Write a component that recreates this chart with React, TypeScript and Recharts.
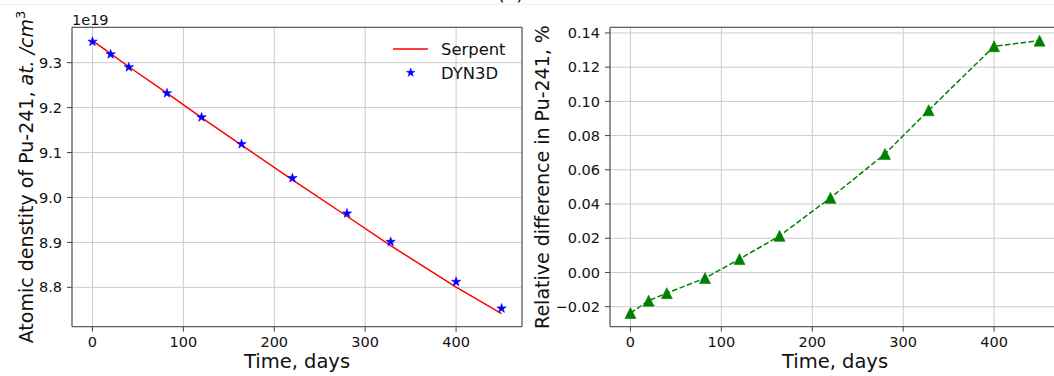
import React from 'react';
import {
  ComposedChart,
  Line,
  XAxis,
  YAxis,
  CartesianGrid,
  ReferenceArea,
  Legend,
} from 'recharts';

// burnup times and results (density in units of 1e19)
const times = [0, 20, 40, 82, 120, 164, 220, 280, 328, 400, 450];
const serpentDensity = [9.3489, 9.3202, 9.2909, 9.2323, 9.1777, 9.1167, 9.0392, 8.9582, 8.8929, 8.8007, 8.7413];
const dyn3dDensity = [9.3467, 9.3187, 9.2898, 9.232, 9.1784, 9.1187, 9.0431, 8.9644, 8.9013, 8.8124, 8.7531];
const relDiffPct = [-0.0237, -0.0165, -0.0121, -0.0033, 0.0078, 0.0214, 0.0436, 0.0693, 0.0948, 0.1322, 0.1355];

const timeTicks = [0, 100, 200, 300, 400];
const densityTicks = [8.8, 8.9, 9.0, 9.1, 9.2, 9.3];
const diffTicks = [-0.02, 0, 0.02, 0.04, 0.06, 0.08, 0.1, 0.12, 0.14];
const seriesNames = ['Serpent', 'DYN3D'];

const densityRows = times.map((t, i) => ({ t, serpent: serpentDensity[i], dyn3d: dyn3dDensity[i] }));
const diffRows = times.map((t, i) => ({ t, diff: relDiffPct[i] }));

const X_DOMAIN: [number, number] = [-22.5, 472.5];
const DENS_DOMAIN: [number, number] = [8.7124, 9.3787];
const DIFF_DOMAIN: [number, number] = [-0.0317, 0.1433];

const FONT = 'DejaVu Sans';
const TEXT = '#111';
const GRID = '#cbcbcb';
const FRAME = '#444';
const tickStyle = { fontSize: 14.5, fill: TEXT, fontFamily: FONT };

const starPoints = (cx: number, cy: number, r: number) => {
  const pts: string[] = [];
  for (let k = 0; k < 10; k++) {
    const rad = k % 2 === 0 ? r : r * 0.382;
    const a = -Math.PI / 2 + (k * Math.PI) / 5;
    pts.push(`${cx + rad * Math.cos(a)},${cy + rad * Math.sin(a)}`);
  }
  return pts.join(' ');
};

const StarDot = (props: any) => {
  const { cx, cy, index } = props;
  if (cx == null || cy == null) return null;
  return <polygon key={`star-${index}`} points={starPoints(cx, cy, 4.9)} fill="#0000ff" stroke="#0000ff" strokeWidth={0.6} />;
};

const TriangleDot = (props: any) => {
  const { cx, cy, index } = props;
  if (cx == null || cy == null) return null;
  const h = 5.5;
  return (
    <polygon
      key={`tri-${index}`}
      points={`${cx},${cy - h} ${cx - h},${cy + h} ${cx + h},${cy + h}`}
      fill="#008000"
      stroke="#008000"
      strokeWidth={0.6}
    />
  );
};

const xLabel = (props: any) => {
  const vb = props.viewBox;
  return (
    <text x={vb.x + vb.width / 2} y={vb.y + 41.5} textAnchor="middle" fontSize={19.5} fontFamily={FONT} fill={TEXT}>
      Time, days
    </text>
  );
};

const densityLabel = (props: any) => {
  const vb = props.viewBox;
  const x = vb.x + 33;
  const y = vb.y + vb.height / 2;
  return (
    <text x={x} y={y} transform={`rotate(-90, ${x}, ${y})`} textAnchor="middle" fontSize={19} fontFamily={FONT} fill={TEXT}>
      Atomic denstity of Pu-241, <tspan fontStyle="italic">at. /cm</tspan>
      <tspan fontSize={13} dy={-8}>3</tspan>
    </text>
  );
};

const diffLabel = (props: any) => {
  const vb = props.viewBox;
  const x = vb.x + 19;
  const y = vb.y + vb.height / 2;
  return (
    <text x={x} y={y} transform={`rotate(-90, ${x}, ${y})`} textAnchor="middle" fontSize={19} fontFamily={FONT} fill={TEXT}>
      Relative difference in Pu-241, %
    </text>
  );
};

const renderLegend = () => (
  <svg width={130} height={50}>
    <line x1={8} y1={13} x2={43} y2={13} stroke="#ff0000" strokeWidth={1.5} />
    <text x={56} y={19} fontSize={16.4} fontFamily={FONT} fill={TEXT}>
      {seriesNames[0]}
    </text>
    <polygon points={starPoints(25.7, 36.7, 4.4)} fill="#0000ff" stroke="#0000ff" strokeWidth={0.6} />
    <text x={56} y={43} fontSize={16.4} fontFamily={FONT} fill={TEXT}>
      {seriesNames[1]}
    </text>
  </svg>
);

const fmtDiff = (v: number) => (v < -1e-9 ? '\u2212' + Math.abs(v).toFixed(2) : Math.abs(v).toFixed(2));

export default function App() {
  return (
    <div
      style={{
        position: 'absolute',
        left: 0,
        top: 0,
        width: 1054,
        height: 376,
        overflow: 'hidden',
        background: '#fff',
        fontFamily: FONT,
      }}
    >
      <div style={{ position: 'absolute', left: 0, top: 4, width: 1054, height: 1, background: '#eeeeee' }} />
      <svg style={{ position: 'absolute', left: 0, top: 0 }} width={1054} height={30}>
        <text x={510.5} y={-0.5} textAnchor="middle" fontSize={19} fontFamily={FONT} fill={TEXT}>
          (a)
        </text>
        <text x={72} y={25} fontSize={14.5} fontFamily={FONT} fill={TEXT}>
          1e19
        </text>
      </svg>

      <div style={{ position: 'absolute', left: 0, top: 0 }}>
        <ComposedChart width={530} height={376} data={densityRows} margin={{ top: 27.3, right: 8, bottom: 9.3, left: 0 }}>
          <CartesianGrid stroke={GRID} strokeWidth={1} />
          <XAxis
            type="number"
            dataKey="t"
            domain={X_DOMAIN}
            ticks={timeTicks}
            allowDataOverflow
            axisLine={false}
            tickLine={{ stroke: FRAME }}
            tickSize={5}
            tickMargin={5}
            tick={tickStyle}
            height={40}
            label={xLabel}
          />
          <YAxis
            type="number"
            domain={DENS_DOMAIN}
            ticks={densityTicks}
            allowDataOverflow
            axisLine={false}
            tickLine={{ stroke: FRAME }}
            tickSize={5}
            tickMargin={5}
            tick={tickStyle}
            tickFormatter={(v: number) => v.toFixed(1)}
            width={72}
            label={densityLabel}
          />
          <ReferenceArea
            x1={X_DOMAIN[0]}
            x2={X_DOMAIN[1]}
            y1={DENS_DOMAIN[0]}
            y2={DENS_DOMAIN[1]}
            fill="none"
            stroke={FRAME}
            strokeWidth={1}
            ifOverflow="visible"
          />
          <Line
            type="linear"
            dataKey="serpent"
            name={seriesNames[0]}
            stroke="#ff0000"
            strokeWidth={1.5}
            dot={false}
            activeDot={false}
            isAnimationActive={false}
          />
          <Line
            type="linear"
            dataKey="dyn3d"
            name={seriesNames[1]}
            stroke="none"
            strokeWidth={0}
            dot={StarDot}
            activeDot={false}
            isAnimationActive={false}
          />
          <Legend
            layout="vertical"
            align="center"
            verticalAlign="middle"
            content={renderLegend}
            wrapperStyle={{ left: 385, top: 36, width: 130, height: 50 }}
          />
        </ComposedChart>
      </div>

      <div style={{ position: 'absolute', left: 530, top: 0 }}>
        <ComposedChart width={540} height={376} data={diffRows} margin={{ top: 27.3, right: 10, bottom: 9.3, left: 0 }}>
          <CartesianGrid stroke={GRID} strokeWidth={1} />
          <XAxis
            type="number"
            dataKey="t"
            domain={X_DOMAIN}
            ticks={timeTicks}
            allowDataOverflow
            axisLine={false}
            tickLine={{ stroke: FRAME }}
            tickSize={5}
            tickMargin={5}
            tick={tickStyle}
            height={40}
            label={xLabel}
          />
          <YAxis
            type="number"
            domain={DIFF_DOMAIN}
            ticks={diffTicks}
            allowDataOverflow
            axisLine={false}
            tickLine={{ stroke: FRAME }}
            tickSize={5}
            tickMargin={5}
            tick={tickStyle}
            tickFormatter={fmtDiff}
            width={80}
            label={diffLabel}
          />
          <ReferenceArea
            x1={X_DOMAIN[0]}
            x2={X_DOMAIN[1]}
            y1={DIFF_DOMAIN[0]}
            y2={DIFF_DOMAIN[1]}
            fill="none"
            stroke={FRAME}
            strokeWidth={1}
            ifOverflow="visible"
          />
          <Line
            type="linear"
            dataKey="diff"
            stroke="#008000"
            strokeWidth={1.5}
            strokeDasharray="5.5 2.4"
            dot={TriangleDot}
            activeDot={false}
            isAnimationActive={false}
          />
        </ComposedChart>
      </div>
    </div>
  );
}
